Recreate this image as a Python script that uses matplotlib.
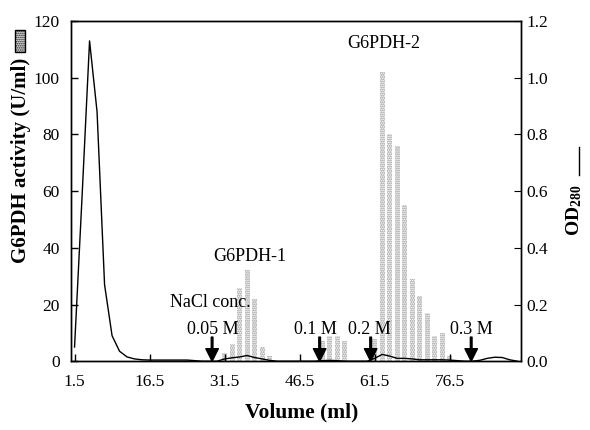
import matplotlib

matplotlib.use("Agg")
import matplotlib.pyplot as plt
from matplotlib.lines import Line2D
from matplotlib.patches import Rectangle

plt.rcParams["font.family"] = ["Liberation Serif", "DejaVu Serif"]
plt.rcParams["mathtext.fontset"] = "custom"
plt.rcParams["mathtext.rm"] = "Liberation Serif"
plt.rcParams["mathtext.bf"] = "Liberation Serif:bold"
plt.rcParams["hatch.linewidth"] = 0.9

# fractions of 1.5 ml, 60 fractions
volume = [1.5 * (i + 1) for i in range(60)]

# G6PDH activity (U/ml), bars
activity = [
    0, 0, 0, 0, 0, 0, 0, 0, 0, 0,
    0, 0, 0, 0, 0, 0, 0, 0, 0, 0,
    3, 6, 26, 32, 22, 5, 2, 0, 0, 0,
    0, 0, 0, 7, 9, 9, 7, 0, 0, 0,
    8, 102, 80, 76, 55, 29, 23, 17, 9, 10,
    2, 0, 0, 0, 0, 0, 0, 0, 0, 0,
]

# OD280, line
od280 = [
    0.05, 0.58, 1.13, 0.88, 0.27, 0.09, 0.035, 0.015, 0.008, 0.005,
    0.004, 0.004, 0.004, 0.004, 0.004, 0.004, 0.002, 0.0, 0.0, 0.0,
    0.008, 0.012, 0.015, 0.02, 0.013, 0.008, 0.003, 0.0, 0.0, 0.0,
    0.0, 0.0, 0.0, 0.002, 0.003, 0.002, 0.0, 0.0, 0.0, 0.0,
    0.01, 0.024, 0.018, 0.01, 0.01, 0.008, 0.005, 0.005, 0.005, 0.005,
    0.004, 0.002, 0.0, 0.0, 0.003, 0.01, 0.014, 0.013, 0.005, 0.0,
]

x_ticks = [1.5, 16.5, 31.5, 46.5, 61.5, 76.5]
left_ticks = [0, 20, 40, 60, 80, 100, 120]
right_ticks = [0.0, 0.2, 0.4, 0.6, 0.8, 1.0, 1.2]

arrow_volume = [29.0, 50.5, 60.7, 80.8]
salt_labels = ["0.05 M", "0.1 M", "0.2 M", "0.3 M"]
salt_label_x = [29.1, 49.6, 60.4, 80.8]

fig = plt.figure(figsize=(5.9, 4.3), dpi=100)
ax = fig.add_axes([0.12, 0.16, 0.763, 0.791])

ax.bar(volume, activity, width=1.0, color="none", edgecolor="#8c8c8c",
       hatch="........", linewidth=0, zorder=1)
ax.set_xlim(0.75, 90.75)
ax.set_ylim(0, 120)
ax.set_xticks(x_ticks)
ax.set_xticklabels([f"{v:.1f}" for v in x_ticks])
ax.set_yticks(left_ticks)
ax.tick_params(direction="in", length=5, labelsize=12.5, width=1)
ax.tick_params(axis="y", pad=8)
ax.tick_params(axis="x", pad=9)

ax2 = ax.twinx()
ax2.plot(volume, od280, color="black", linewidth=1.0)
ax2.set_ylim(0, 1.2)
ax2.set_yticks(right_ticks)
ax2.set_yticklabels([f"{v:.1f}" for v in right_ticks])
ax2.tick_params(direction="in", length=5, labelsize=12.5, pad=4)

for spine in list(ax.spines.values()) + list(ax2.spines.values()):
    spine.set_linewidth(1.0)

for xv in arrow_volume:
    ax.annotate("", xy=(xv, 0), xytext=(xv, 8.5),
                arrowprops=dict(facecolor="black", edgecolor="black", width=1.2,
                                headwidth=9, headlength=9, shrink=0), zorder=5)

for label, xv in zip(salt_labels, salt_label_x):
    ax.text(xv, 11.3, label, ha="center", va="center", fontsize=13)
ax.text(28.6, 20.6, "NaCl conc.", ha="center", va="center", fontsize=13)
ax.text(36.6, 36.9, "G6PDH-1", ha="center", va="center", fontsize=13)
ax.text(63.4, 112, "G6PDH-2", ha="center", va="center", fontsize=13)

fig.text(302 / 590, 1 - 412 / 430, "Volume (ml)", ha="center", va="center",
         fontsize=15.5, fontweight="bold")
fig.text(21 / 590, 1 - 160 / 430, "G6PDH activity (U/ml)", ha="center",
         va="center", rotation=90, fontsize=15, fontweight="bold")
fig.add_artist(Rectangle((15 / 590, 1 - 52 / 430), 10 / 590, 22 / 430,
                         transform=fig.transFigure, facecolor="white",
                         edgecolor="black", hatch="........", linewidth=1.0))
fig.text(574 / 590, 1 - 210 / 430, r"$\mathbf{OD_{280}}$", ha="center",
         va="center", rotation=90, fontsize=14)
fig.add_artist(Line2D([579 / 590, 579 / 590], [1 - 147 / 430, 1 - 175 / 430],
                      transform=fig.transFigure, color="black", linewidth=1.0))

fig.savefig("out.png", dpi=100)
